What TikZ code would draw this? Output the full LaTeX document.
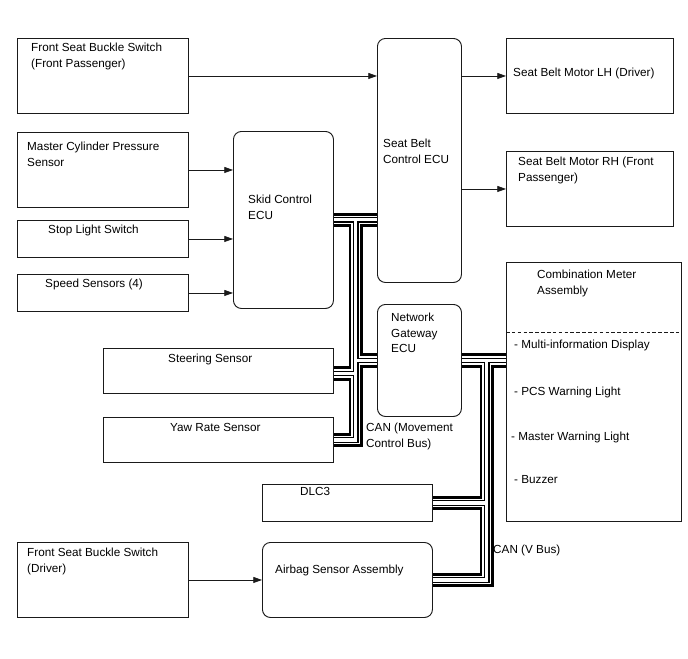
\documentclass[tikz,border=0pt]{standalone}
\usepackage{fontspec}
\setmainfont{Liberation Sans}
\usepackage{tikz}
\usetikzlibrary{positioning,arrows.meta,calc,backgrounds}
\definecolor{dLine}{HTML}{1A1A1A}
\tikzset{
 txt/.style={font=\fontsize{10}{13.2}\selectfont, align=left, inner sep=0pt, anchor=north west},
 sq/.style={draw=dLine, line width=0.8pt, anchor=north west, inner sep=0pt},
 rnd/.style={sq, rounded corners=6.8pt},
 arr/.style={-{Triangle[length=2.6mm,width=1.8mm]}, draw=dLine, line width=0.6pt},
 cab1/.style={line width=12pt, black},
 cab2/.style={line width=7.6pt, white},
 cab3/.style={line width=4.6pt, black},
 cab4/.style={line width=2.6pt, white}
}
% box: style, name, top left, width, height, text offset, text
\newcommand{\blk}[7]{%
 \node[#1, minimum width=#4*0.03cm, minimum height=#5*0.03cm] (#2) at (#3) {};%
 \node[txt] (#2t) at ($(#2.north west)+(#6)$) {#7};}
% the CAN wiring, drawn once per layer
\newcommand{\canroutes}[1]{%
 \draw[#1] (skid.east) -- (sbecu.west |- skid.east);
 \draw[#1] (mcT) -- (mcT |- yaw.east) -- (yaw.east);
 \draw[#1] (mcS) -- (steer.east |- mcS);
 \draw[#1] (mcT |- gw.west) -- (gw.west);
 \draw[#1] (gw.east) -- (meter.west |- gw.east);
 \draw[#1] (vbT) -- (vbT |- airbag.east) -- (airbag.east);
 \draw[#1] (vbT |- dlc.east) -- (dlc.east);}

\begin{document}
\begin{tikzpicture}[x=0.03cm, y=-0.03cm]
\useasboundingbox (0,0) rectangle (688,658);
% left inputs
\blk{sq}{bsfp}{17,38}{171}{75}{14,5}{Front Seat Buckle Switch\\(Front Passenger)}
\blk{sq}{mcp}{17,132}{171}{75}{10,10}{Master Cylinder Pressure\\Sensor}
\blk{sq}{sls}{17,220}{171}{37}{31,5}{Stop Light Switch}
\blk{sq}{spd}{17,274}{171}{37}{28,5}{Speed Sensors (4)}
\blk{sq}{steer}{103,348}{230}{45}{65,6}{Steering Sensor}
\blk{sq}{yaw}{103,417}{230}{45}{67,6}{Yaw Rate Sensor}
\blk{sq}{bsdr}{17,542}{171}{75}{10,6}{Front Seat Buckle Switch\\(Driver)}
% ECUs
\blk{rnd}{skid}{233,131}{100}{177}{15,64}{Skid Control\\ECU}
\blk{rnd}{sbecu}{377,38}{84}{244}{6,101}{Seat Belt\\Control ECU}
\blk{rnd}{gw}{377,304}{84}{112}{14,9}{Network\\Gateway\\ECU}
\blk{rnd}{airbag}{262,542}{170}{75}{13,23}{Airbag Sensor Assembly}
\blk{sq}{dlc}{262,484}{170}{37}{38,3}{DLC3}
% outputs
\blk{sq}{mlh}{506,38}{167}{75}{7,30}{Seat Belt Motor LH (Driver)}
\blk{sq}{mrh}{506,151}{167}{75}{12,6}{Seat Belt Motor RH (Front\\Passenger)}
\blk{sq}{meter}{506,262}{175}{259}{31,8}{Combination Meter\\Assembly}
\draw[dLine, line width=0.6pt, dash pattern=on 3pt off 2pt] ($(meter.north west)+(0,70)$) -- ($(meter.north east)+(-1,70)$);
\node[txt] (mi1) at ($(meter.north west)+(8,78)$) {- Multi-information Display};
\node[txt] (mi2) at ($(meter.north west)+(8,125)$) {- PCS Warning Light};
\node[txt] (mi3) at ($(meter.north west)+(5,170)$) {- Master Warning Light};
\node[txt] (mi4) at ($(meter.north west)+(8,213)$) {- Buzzer};
% bus labels
\node[txt] (canmc) at (366,423) {CAN (Movement\\Control Bus)};
\node[txt] (canv) at (493,545) {CAN (V Bus)};
% signals
\draw[arr] (bsfp.east) -- (sbecu.west |- bsfp.east);
\draw[arr] (sbecu.east |- mlh.west) -- (mlh.west);
\draw[arr] (sbecu.east |- mrh.west) -- (mrh.west);
\draw[arr] (mcp.east) -- (skid.west |- mcp.east);
\draw[arr] (sls.east) -- (skid.west |- sls.east);
\draw[arr] (spd.east) -- (skid.west |- spd.east);
\draw[arr] (bsdr.east) -- (airbag.west);
% CAN
\coordinate (mcT) at ($(skid.east)+(22,0)$);
\coordinate (mcS) at ($(mcT |- steer.east)+(0,2.5)$);
\coordinate (vbT) at ($(gw.east)+(25,0)$);
\begin{scope}[on background layer]
\canroutes{cab1}
\canroutes{cab2}
\canroutes{cab3}
\canroutes{cab4}
\end{scope}
\end{tikzpicture}
\end{document}
